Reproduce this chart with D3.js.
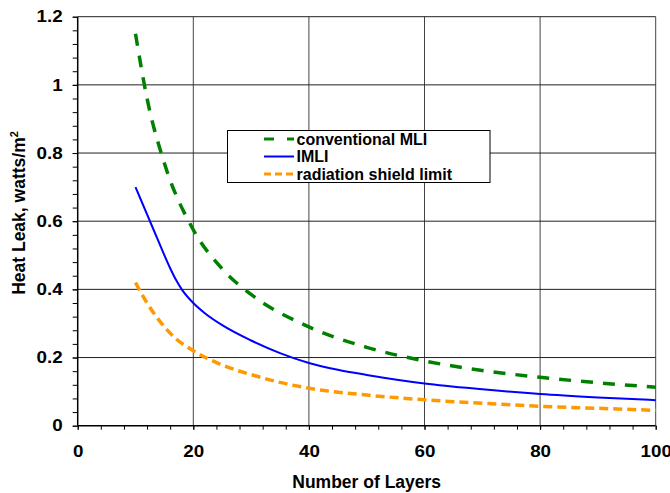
<!DOCTYPE html>
<html>
<head>
<meta charset="utf-8">
<script src="https://cdn.jsdelivr.net/npm/d3@7"></script>
<style>
  body { margin: 0; background: #fff; }
  svg { display: block; font-family: "Liberation Sans", Arial, sans-serif; font-weight: bold; }
</style>
</head>
<body>
<div id="chart"></div>
<script>
// number of layers for each series
const layersMLI = [10, 12, 15, 20, 25, 30, 40, 50, 60, 70, 80, 90, 100];
const conventionalMLI = [1.15, 0.96, 0.77, 0.575, 0.46, 0.385, 0.29, 0.23, 0.19, 0.162, 0.142, 0.126, 0.113];

const layersIMLI = [10, 12, 14, 16, 17, 18, 20, 22, 25, 30, 35, 40, 45, 50, 60, 70, 80, 90, 100];
const imli = [0.70, 0.62, 0.54, 0.462, 0.428, 0.40, 0.36, 0.33, 0.295, 0.25, 0.213, 0.184, 0.164, 0.149, 0.124, 0.107, 0.093, 0.083, 0.075];

const layersShield = [10, 12, 15, 17, 20, 25, 30, 35, 40, 50, 60, 70, 80, 90, 100];
const shieldLimit = [0.42, 0.36, 0.29, 0.255, 0.22, 0.178, 0.15, 0.127, 0.11, 0.09, 0.076, 0.066, 0.057, 0.051, 0.045];

const seriesNames = ["conventional MLI", "IMLI", "radiation shield limit"];
const xTicks = [0, 20, 40, 60, 80, 100];
const yTicks = [0, 0.2, 0.4, 0.6, 0.8, 1, 1.2];

function chart(container) {
    // Declare the chart dimensions and margins.
    const width = 670;
    const height = 493;
    const marginTop = 16.7;
    const marginRight = 14.3;
    const marginBottom = 67.3;
    const marginLeft = 77.7;

    const x = d3.scaleLinear()
        .domain([0, 100])
        .range([marginLeft, width - marginRight]);

    const y = d3.scaleLinear()
        .domain([0, 1.2])
        .range([height - marginBottom, marginTop]);

    const svg = d3.select(container).append("svg")
        .attr("width", width)
        .attr("height", height)
        .attr("viewBox", [0, 0, width, height]);

    // grid lines (also form the top and right border)
    svg.append("g")
        .attr("stroke", "#444")
        .attr("stroke-width", 1)
        .selectAll("line")
        .data(xTicks.slice(1))
        .join("line")
            .attr("x1", d => x(d)).attr("x2", d => x(d))
            .attr("y1", y(0)).attr("y2", y(1.2));

    svg.append("g")
        .attr("stroke", "#222")
        .attr("stroke-width", 1)
        .selectAll("line")
        .data(yTicks.slice(1))
        .join("line")
            .attr("x1", x(0)).attr("x2", x(100))
            .attr("y1", d => y(d)).attr("y2", d => y(d));

    // minor ticks
    svg.append("g")
        .attr("transform", `translate(0,${y(0)})`)
        .call(d3.axisBottom(x).tickValues(d3.range(0, 101, 4)).tickSize(4).tickFormat(""))
        .call(g => g.select(".domain").remove());

    svg.append("g")
        .attr("transform", `translate(${x(0)},0)`)
        .call(d3.axisLeft(y).tickValues(d3.range(0, 1.21, 0.04)).tickSize(5).tickFormat(""))
        .call(g => g.select(".domain").remove());

    // tick labels in the picture are a bit wider than plain Arial
    const widen = g => g.selectAll("text")
        .attr("font-size", 16.5)
        .attr("font-family", "Liberation Sans, Arial, sans-serif")
        .attr("font-weight", "bold")
        .attr("fill", "#000")
        .each(function() {
            const t = d3.select(this);
            const tx = +t.attr("x") || 0;
            const ty = +t.attr("y") || 0;
            t.attr("x", 0).attr("y", 0)
             .attr("transform", `translate(${tx},${ty}) scale(1.14,1)`);
        });

    // Append the axes.
    svg.append("g")
        .attr("transform", `translate(0,${y(0)})`)
        .call(d3.axisBottom(x).tickValues(xTicks).tickSize(4).tickPadding(16).tickFormat(d3.format("~g")))
        .call(g => g.select(".domain").attr("d", `M${x(0)},0H${x(100)}`).attr("stroke-width", 1.5))
        .call(widen);

    svg.append("g")
        .attr("transform", `translate(${x(0)},0)`)
        .call(d3.axisLeft(y).tickValues(yTicks).tickSize(5).tickPadding(10).tickFormat(d3.format("~g")))
        .call(g => g.select(".domain").attr("d", `M0,${y(0)}V${y(1.2)}`).attr("stroke-width", 1.5))
        .call(widen);

    // axis titles
    svg.append("text")
        .attr("x", (x(0) + x(100)) / 2)
        .attr("y", 488)
        .attr("text-anchor", "middle")
        .attr("font-size", 17.5)
        .text("Number of Layers");

    const yTitle = svg.append("text")
        .attr("transform", `translate(25,213) rotate(-90)`)
        .attr("text-anchor", "middle")
        .attr("font-size", 17.5);
    yTitle.append("tspan").text("Heat Leak, watts/m");
    yTitle.append("tspan").attr("font-size", 11).attr("dy", -7).text("2");

    // series
    const series = [
        {name: seriesNames[0], xs: layersMLI, ys: conventionalMLI, color: "#008000", width: 3.5, dash: "12,10", legendDash: "10,13"},
        {name: seriesNames[1], xs: layersIMLI, ys: imli, color: "#0000ff", width: 2, dash: null, legendDash: null},
        {name: seriesNames[2], xs: layersShield, ys: shieldLimit, color: "#ff9900", width: 3.5, dash: "9,5", legendDash: "7,4"}
    ];

    const line = d3.line()
        .x(d => x(d[0]))
        .y(d => y(d[1]))
        .curve(d3.curveMonotoneX);

    svg.append("g")
        .attr("fill", "none")
        .selectAll("path")
        .data(series)
        .join("path")
            .attr("d", s => line(d3.zip(s.xs, s.ys)))
            .attr("stroke", s => s.color)
            .attr("stroke-width", s => s.width)
            .attr("stroke-dasharray", s => s.dash);

    // legend
    const legend = svg.append("g");
    legend.append("rect")
        .attr("x", 227.5).attr("y", 130.5)
        .attr("width", 262.5).attr("height", 52)
        .attr("fill", "#fff")
        .attr("stroke", "#000")
        .attr("stroke-width", 1);

    const item = legend.selectAll("g")
        .data(series)
        .join("g")
            .attr("transform", (d, i) => `translate(0,${144.5 + i * 17.5})`);

    item.append("line")
        .attr("x1", 264).attr("x2", 294)
        .attr("y1", -5.5).attr("y2", -5.5)
        .attr("stroke", d => d.color)
        .attr("stroke-width", d => d.width === 2 ? 2 : 3)
        .attr("stroke-dasharray", d => d.legendDash);

    item.append("text")
        .attr("x", 296.5)
        .attr("font-size", 16)
        .text(d => d.name);
}

chart("#chart");
</script>
</body>
</html>
